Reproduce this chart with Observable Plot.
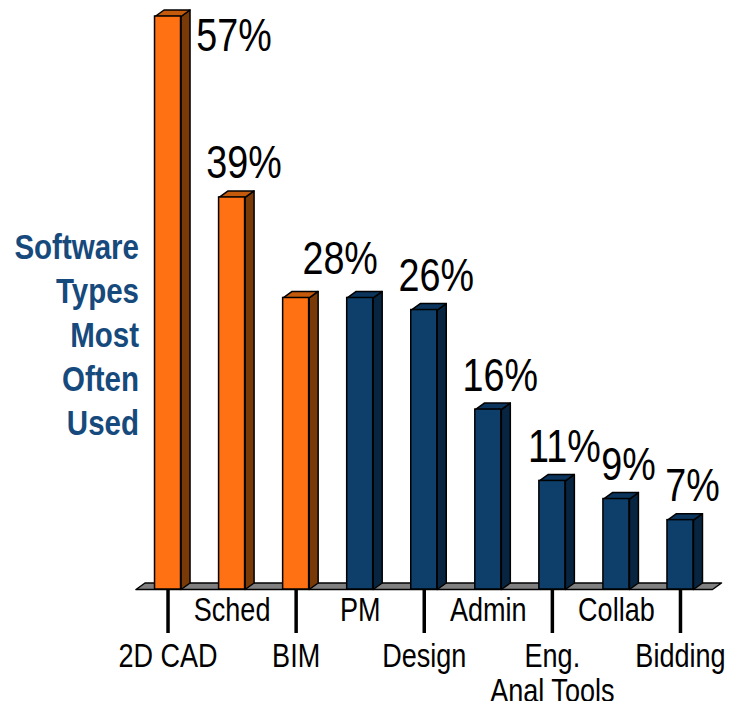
<!DOCTYPE html>
<html>
<head>
<meta charset="utf-8">
<script src="https://cdn.jsdelivr.net/npm/d3@7"></script>
<script src="https://cdn.jsdelivr.net/npm/@observablehq/plot@0.6"></script>
<style>
  html, body { margin: 0; padding: 0; background: #ffffff; }
  #chart svg { display: block; }
</style>
</head>
<body>
<div id="chart"></div>
<script>
// ---- data ----
const categories = ["2D CAD", "Sched", "BIM", "PM", "Design", "Admin", "Eng.\nAnal Tools", "Collab", "Bidding"];
const barHeights = [57, 39, 29, 29, 27.8, 17.9, 10.8, 9, 6.9];      // drawn bar heights (%)
const pctLabels  = ["57%", "39%", "28%", "", "26%", "16%", "11%", "9%", "7%"];
const highlighted = ["2D CAD", "Sched", "BIM"];
const titleLines = ["Software", "Types", "Most", "Often", "Used"];

// ---- layout ----
const W = 732, H = 701;
const mL = 135.5, mR = 20, mT = 16, mB = 112;
const yMax = 57;
const kx = (W - mL - mR) / categories.length;   // px per category
const ky = (H - mT - mB) / yMax;                 // px per percent
const depthX = 9 / kx, depthY = 6.5 / ky;        // 3D offset in data units
const half = 13 / kx;                            // half front width
const NARROW = 0.82;                             // horizontal squeeze -> narrow face

const FONT = "'Liberation Sans', Arial, Helvetica, sans-serif";
const colors = {
  hi: {front: "#ff7112", side: "#7a3a08", top: "#c45a0c"},
  lo: {front: "#0e3f6a", side: "#072540", top: "#0b355c"}
};

const idx = categories.map((_, i) => i);
const pal = i => highlighted.includes(categories[i]) ? colors.hi : colors.lo;

// polygons (side + top faces) and floor
const faces = [];
idx.forEach(i => {
  const h = barHeights[i], xl = i - half, xr = i + half, c = pal(i);
  [[xr, 0], [xr + depthX, depthY], [xr + depthX, h + depthY], [xr, h], [xr, 0]]
    .forEach(([x, y]) => faces.push({key: "s" + i, x, y, fill: c.side}));
  [[xl, h], [xr, h], [xr + depthX, h + depthY], [xl + depthX, h + depthY], [xl, h]]
    .forEach(([x, y]) => faces.push({key: "t" + i, x, y, fill: c.top}));
});
const floor = [[-0.5, 0], [8.5, 0], [8.5 + depthX, depthY], [-0.5 + depthX, depthY], [-0.5, 0]]
  .map(([x, y]) => ({x, y}));

const upper = idx.filter(i => i % 2 === 1);
const lower = idx.filter(i => i % 2 === 0);
const generalLabels = idx.filter(i => i !== 0 && i !== 2 && pctLabels[i]);

const plot = Plot.plot({
  width: W, height: H,
  marginLeft: mL, marginRight: mR, marginTop: mT, marginBottom: mB,
  style: {fontFamily: FONT, fontSize: "33px", color: "#000", background: "#fff"},
  x: {type: "linear", domain: [-0.5, 8.5], axis: null},
  y: {domain: [0, yMax], axis: null},
  marks: [
    Plot.line(floor, {x: "x", y: "y", fill: "#808080", stroke: "#000", strokeWidth: 1.5}),
    Plot.line(faces, {x: "x", y: "y", z: "key", fill: "fill", stroke: "#000", strokeWidth: 1.5, strokeLinejoin: "round"}),
    Plot.rect(idx, {
      x1: i => i - half, x2: i => i + half, y1: 0, y2: i => barHeights[i],
      fill: i => pal(i).front, stroke: "#000", strokeWidth: 1.5
    }),
    // value labels
    Plot.text(generalLabels, {
      x: i => i, y: i => barHeights[i], text: i => pctLabels[i],
      dx: 12, dy: -33.7, fontSize: 46, fill: "#000"
    }),
    Plot.text([0], {
      x: i => i, y: i => barHeights[i], text: i => pctLabels[i],
      dx: 66, dy: 19.3, fontSize: 46, fill: "#000"
    }),
    Plot.text([2], {
      x: i => i, y: i => barHeights[i], text: i => pctLabels[i],
      dx: 44, dy: -38.7, fontSize: 46, fill: "#000"
    }),
    // category axis: two staggered rows
    Plot.axisX(upper, {
      tickSize: 0, tickPadding: 8, tickFormat: i => categories[i],
      fontSize: 33, fill: "#000", label: null
    }),
    Plot.axisX(lower, {
      tickSize: 44, tickPadding: 9, tickFormat: i => categories[i],
      stroke: "#000", strokeWidth: 3.5, fontSize: 33, fill: "#000", lineHeight: 1.05, label: null
    }),
    // side title
    Plot.text([titleLines.join("\n")], {
      frameAnchor: "left", text: d => d, textAnchor: "end",
      dx: 3, dy: 30, fontSize: 36, fontWeight: "bold", fill: "#174a7c", lineHeight: 44 / 36
    })
  ]
});

// squeeze every text horizontally around its own anchor point (narrow typeface look)
plot.querySelectorAll("text").forEach(t => {
  const tr = t.getAttribute("transform");
  if (tr) {
    t.setAttribute("transform", tr + ` scale(${NARROW},1)`);
  } else {
    const x = +t.getAttribute("x") || 0, y = +t.getAttribute("y") || 0;
    t.setAttribute("transform", `translate(${x},${y}) scale(${NARROW},1) translate(${-x},${-y})`);
  }
});
document.getElementById("chart").appendChild(plot);
</script>
</body>
</html>
